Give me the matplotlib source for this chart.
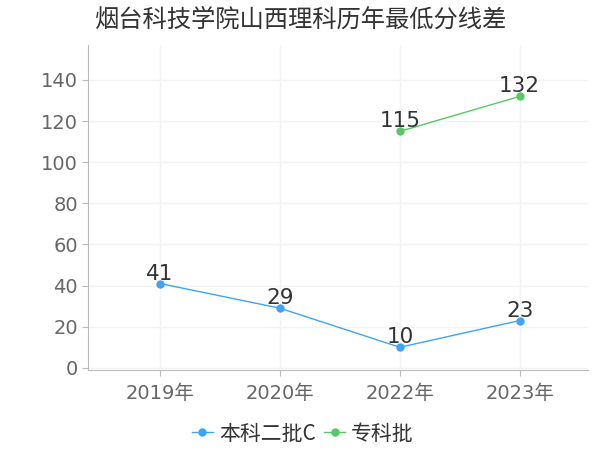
import matplotlib
matplotlib.use("Agg")
import matplotlib.pyplot as plt
import numpy as np

plt.rcParams['font.family'] = ['DejaVu Sans', 'Noto Sans CJK SC']

years = ['2019年', '2020年', '2022年', '2023年']
benke = [41, 29, 10, 23]
zhuanke = [np.nan, np.nan, 115, 132]

blue = '#3fa4f5'
green = '#58c765'
cjk = ['Noto Sans CJK SC', 'DejaVu Sans']

fig = plt.figure(figsize=(6, 4.5), dpi=100)
ax = fig.add_axes([0.147, 0.178, 0.833, 0.722])

x = np.arange(len(years))
ax.plot(x, benke, color=blue, linewidth=1, marker='o', markersize=5, label='本科二批C')
ax.plot(x, zhuanke, color=green, linewidth=1, marker='o', markersize=5, label='专科批')

for series in (benke, zhuanke):
    for xi, v in zip(x, series):
        if not np.isnan(v):
            ax.annotate(str(v), (xi, v), xytext=(0, 0), textcoords='offset points',
                        ha='center', va='bottom', fontsize=15.5, color='#333333')

ax.set_xlim(-0.6, 3.57)
ax.set_ylim(-1, 157)
ax.set_yticks(range(0, 141, 20))
ax.set_xticks(x)
ax.set_xticklabels(years)
ax.tick_params(axis='both', labelsize=14, colors='#666666')
ax.tick_params(axis='x', length=4, color='#bbbbbb', pad=6)
ax.tick_params(axis='y', length=4, color='#bbbbbb')

ax.grid(True, color='#f3f3f3', linewidth=1)
ax.set_axisbelow(True)
for s in ['top', 'right']:
    ax.spines[s].set_visible(False)
ax.spines['left'].set_color('#bbbbbb')
ax.spines['bottom'].set_color('#bbbbbb')

fig.text(0.5, 0.957, '烟台科技学院山西理科历年最低分线差', ha='center', va='center',
         fontsize=17.5, color='#333333', family=cjk)

fig.legend(loc='lower center', bbox_to_anchor=(0.505, -0.03), ncol=2, frameon=False,
           prop={'family': cjk, 'size': 15}, handlelength=1.0, handletextpad=0.3,
           columnspacing=0.4, labelcolor='#333333')

fig.savefig('out.png', dpi=100)
